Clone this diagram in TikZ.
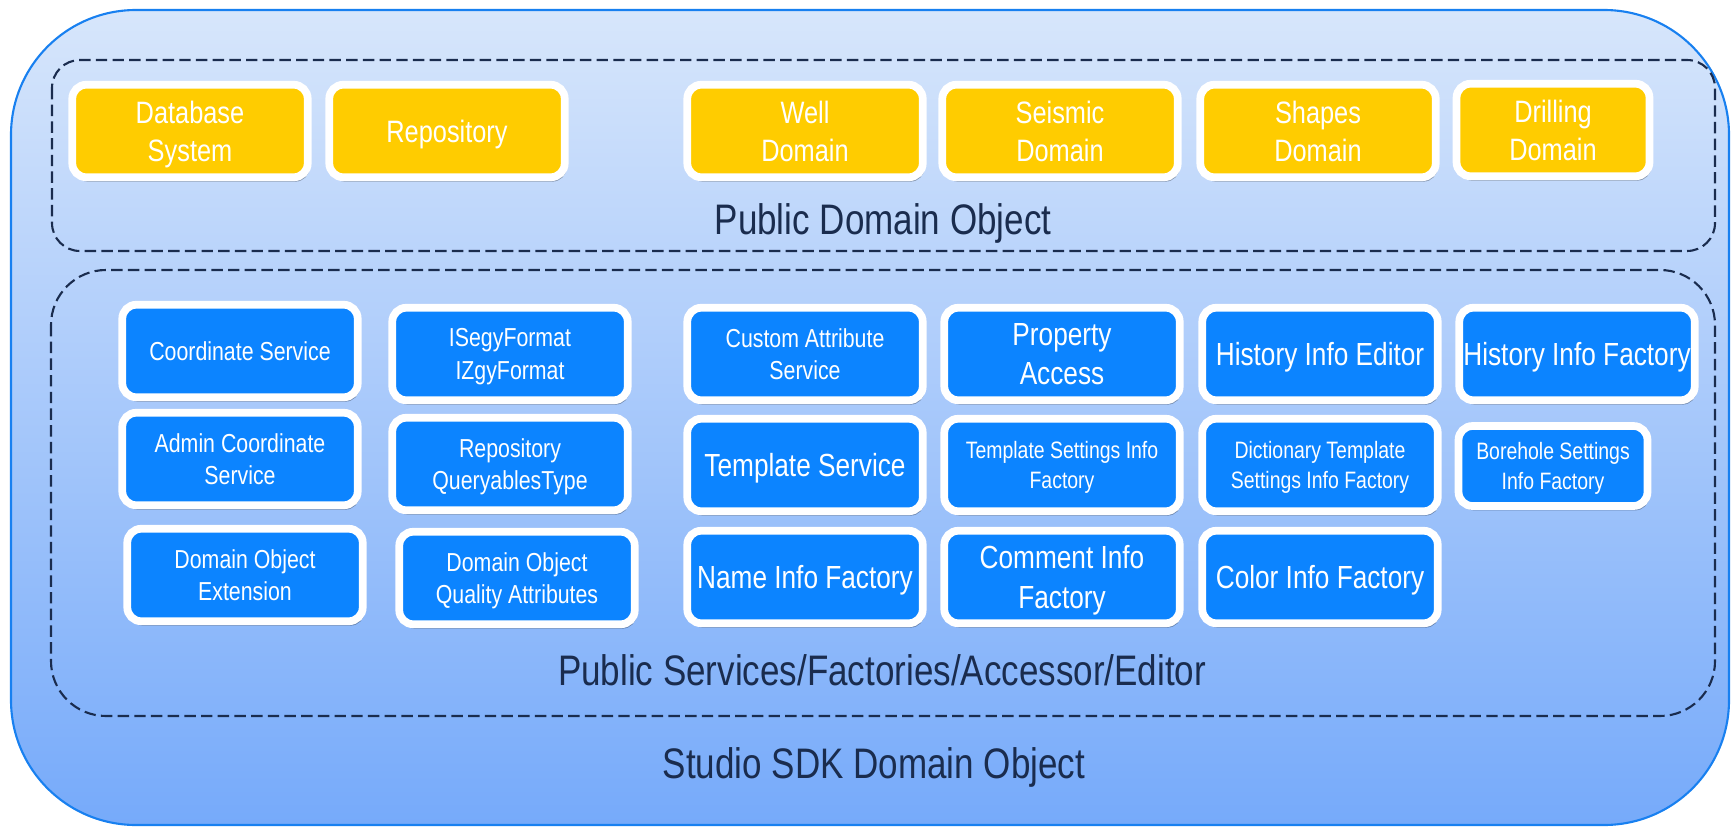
\documentclass[tikz,border=0pt]{standalone}
\usepackage{fontspec}
\setmainfont[FakeStretch=0.82]{Liberation Sans}
\usetikzlibrary{shadows,positioning}
\definecolor{sdkblue}{RGB}{12,132,255}
\definecolor{sdkyellow}{RGB}{255,204,0}
\definecolor{sdknavy}{RGB}{26,44,78}
\definecolor{sdkedge}{RGB}{24,128,240}
\definecolor{sdktop}{RGB}{215,230,251}
\definecolor{sdkbottom}{RGB}{118,170,250}
\tikzset{
  tile/.style={draw=white,line width=4.4pt,rounded corners=0.28cm,
    text=white,align=center,inner sep=0pt,
    minimum width=4.71cm,minimum height=1.85cm,
    drop shadow={shadow xshift=1pt,shadow yshift=-2.5pt,opacity=0.3,fill=black}},
  domaintile/.style={tile,fill=sdkyellow,text depth=-4pt,
    font=\fontsize{17.6}{21.6}\selectfont},
  service/.style={tile,fill=sdkblue,text depth=-2pt,
    font=\fontsize{14.8}{18.4}\selectfont},
  servicebig/.style={tile,fill=sdkblue,text depth=-4.2pt,
    font=\fontsize{18.2}{22.4}\selectfont},
  servicesmall/.style={tile,fill=sdkblue,text depth=-6pt,
    font=\fontsize{13.5}{17}\selectfont},
  layer/.style={draw=sdknavy,line width=1.2pt,dash pattern=on 6.5pt off 3pt},
  caption/.style={text=sdknavy,font=\fontsize{24.3}{28}\selectfont}
}

\begin{document}
\begin{tikzpicture}[x=0.02cm,y=-0.02cm]
\useasboundingbox (0,0) rectangle (1733,828);

% outer container
\draw[sdkedge,line width=1.2pt,top color=sdktop,bottom color=sdkbottom,
      rounded corners=2.5cm] (11,10) rectangle (1729,825);

% the two dashed layers
\draw[layer,rounded corners=0.56cm] (52,60) rectangle (1715,251);
\draw[layer,rounded corners=1.1cm] (51,270) rectangle (1715,716);

% public domain objects
\node[domaintile] (dbsys) at (190,131) {Database\\System};
\node[domaintile] (repo) at (447,131) {Repository};
\node[domaintile] (well) at (805,131) {Well\\Domain};
\node[domaintile] (seismic) at (1060,131) {Seismic\\Domain};
\node[domaintile] (shapes) at (1318,131) {Shapes\\Domain};
\node[domaintile,minimum width=3.86cm] (drilling) at (1553,130) {Drilling\\Domain};
\node[caption] (pdo) at (883,223) {Public Domain Object};

% services, factories, accessor, editor
\node[service] (coord) at (240,351) {Coordinate Service};
\node[service] (admincoord) at (240,459) {Admin Coordinate\\Service};
\node[service] (doext) at (245,575) {Domain Object\\Extension};

\node[service] (segy) at (510,354) {ISegyFormat\\IZgyFormat};
\node[service] (queryables) at (510,464) {Repository\\QueryablesType};
\node[service] (doquality) at (517,578) {Domain Object\\Quality Attributes};

\node[service] (customattr) at (805,354) {Custom Attribute\\Service};
\node[servicebig] (template) at (805,465) {Template Service};
\node[servicebig] (nameinfo) at (805,577) {Name Info Factory};

\node[servicebig] (propaccess) at (1062,354) {Property\\Access};
\node[servicesmall] (tplsettings) at (1062,465) {Template Settings Info\\Factory};
\node[servicebig] (commentinfo) at (1062,577) {Comment Info\\Factory};

\node[servicebig] (histeditor) at (1320,354) {History Info Editor};
\node[servicesmall] (dictsettings) at (1320,465) {Dictionary Template\\Settings Info Factory};
\node[servicebig] (colorinfo) at (1320,577) {Color Info Factory};

\node[servicebig] (histfactory) at (1577,354) {History Info Factory};
\node[servicesmall,minimum width=3.78cm,minimum height=1.6cm,text depth=-3pt]
     (boreholesettings) at (1553,466) {Borehole Settings\\Info Factory};

\node[caption] (psf) at (882,670) {Public Services/Factories/Accessor/Editor};
\node[caption] (sdk) at (874,767) {Studio SDK Domain Object};
\end{tikzpicture}
\end{document}
